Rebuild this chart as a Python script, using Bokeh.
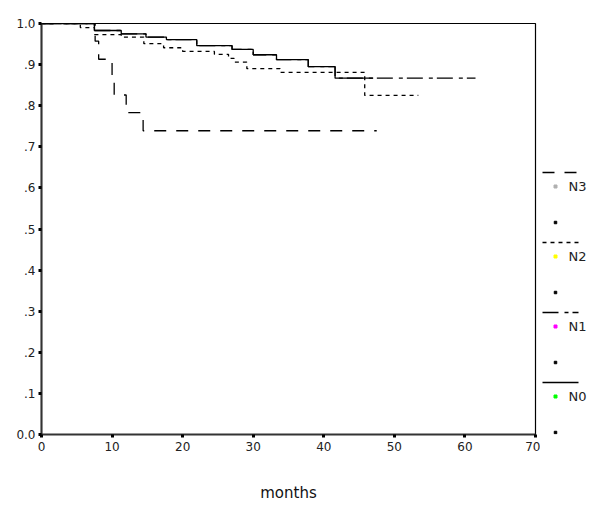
from bokeh.plotting import figure
from bokeh.layouts import row
from bokeh.models import Range1d, FixedTicker
from bokeh.core.properties import value
from bokeh.embed import file_html
from bokeh.resources import INLINE

# ---- data ----
months_n0 = [0, 7.5, 11.3, 14.8, 17.7, 22.0, 27.0, 30.0, 33.3, 37.8, 41.6, 47.0]
surv_n0 = [1.0, 0.983, 0.975, 0.967, 0.961, 0.946, 0.937, 0.924, 0.912, 0.895, 0.867, 0.867]

months_n1 = [0, 7.5, 11.3, 14.8, 17.7, 22.0, 27.0, 30.0, 33.3, 37.8, 41.6, 61.5]
surv_n1 = [1.0, 0.983, 0.975, 0.967, 0.961, 0.946, 0.937, 0.924, 0.912, 0.895, 0.867, 0.867]

months_n2 = [0, 5.5, 7.5, 11.3, 14.5, 17.3, 20.0, 24.5, 26.5, 27.3, 29.1, 33.8, 45.8, 53.4]
surv_n2 = [1.0, 0.99, 0.973, 0.967, 0.951, 0.941, 0.932, 0.925, 0.915, 0.906, 0.89, 0.881, 0.825, 0.825]

months_n3 = [0, 7.6, 8.1, 10.0, 10.3, 12.0, 14.4, 47.5]
surv_n3 = [1.0, 0.957, 0.913, 0.87, 0.826, 0.783, 0.739, 0.739]

x_ticks = [0, 10, 20, 30, 40, 50, 60, 70]
y_ticks = [0.0, 0.1, 0.2, 0.3, 0.4, 0.5, 0.6, 0.7, 0.8, 0.9, 1.0]
y_tick_labels = ["0.0", ".1", ".2", ".3", ".4", ".5", ".6", ".7", ".8", ".9", "1.0"]

legend_names = ["N3", "N2", "N1", "N0"]
legend_dots = ["#b0b0b0", "#ffff00", "#ff00ff", "#00ff00"]
legend_dashes = ["12 10", "4 4", "16 6 4 4", "solid"]

FONT = "DejaVu Sans"

p = figure(width=540, height=507, output_backend="svg", toolbar_location=None,
           x_range=Range1d(0, 70), y_range=Range1d(0, 1),
           min_border_left=41, min_border_top=23, min_border_right=5, min_border_bottom=73)
p.grid.visible = False
p.outline_line_color = "black"
p.outline_line_width = 1.2
p.background_fill_color = "white"
p.border_fill_color = "white"

for ax in (p.xaxis[0], p.yaxis[0]):
    ax.axis_line_color = "#333333"
    ax.axis_line_width = 2
    ax.major_tick_line_color = "black"
    ax.major_tick_line_width = 3
    ax.major_tick_out = 3
    ax.major_tick_in = 0
    ax.minor_tick_line_color = None
    ax.major_label_text_font = FONT
    ax.major_label_text_font_size = "12px"
    ax.major_label_text_color = "#222222"

p.xaxis.ticker = FixedTicker(ticks=x_ticks)
p.yaxis.ticker = FixedTicker(ticks=y_ticks)
p.yaxis.major_label_overrides = {t: l for t, l in zip(y_ticks, y_tick_labels)}
p.xaxis.major_label_standoff = 4
p.yaxis.major_label_standoff = 3
p.xaxis.axis_label = "months"
p.xaxis.axis_label_text_font = FONT
p.xaxis.axis_label_text_font_style = "normal"
p.xaxis.axis_label_text_font_size = "15px"
p.xaxis.axis_label_text_color = "#111111"
p.xaxis.axis_label_standoff = 30

curves = [
    (months_n0, surv_n0, "solid"),
    (months_n1, surv_n1, "16 6 4 4"),
    (months_n2, surv_n2, "4 4"),
    (months_n3, surv_n3, "12 10"),
]
for t, s, dash in curves:
    p.step(t, s, mode="after", line_color="black", line_width=1.3, line_dash=dash)

# ---- legend panel (frame aligned with main frame; coordinates in page pixels) ----
lg = figure(width=60, height=507, output_backend="svg", toolbar_location=None,
            x_range=Range1d(540, 600), y_range=Range1d(434, 23),
            min_border=0)
lg.axis.visible = False
lg.grid.visible = False
lg.outline_line_color = None
lg.border_fill_color = "white"
lg.background_fill_color = "white"

pitch = 70
top = 172
line_y = [top + i * pitch for i in range(len(legend_names))]
label_y = [y + 14 for y in line_y]
dot_y = [y + 50 for y in line_y]

for i, name in enumerate(legend_names):
    lg.line([542, 578], [line_y[i], line_y[i]], line_color="black", line_width=1.3,
            line_dash=legend_dashes[i])
    lg.scatter([555], [label_y[i]], size=3, marker="square", color=legend_dots[i])
    lg.scatter([555], [dot_y[i]], size=2.5, marker="square", color="black")

lg.text(x=[568] * len(legend_names), y=label_y, text=legend_names,
        text_font=value(FONT), text_font_size="13px", text_color="#222222",
        text_baseline="middle", text_align="left")

layout = row(p, lg, spacing=0)
open("out.html", "w").write(file_html(layout, INLINE))
